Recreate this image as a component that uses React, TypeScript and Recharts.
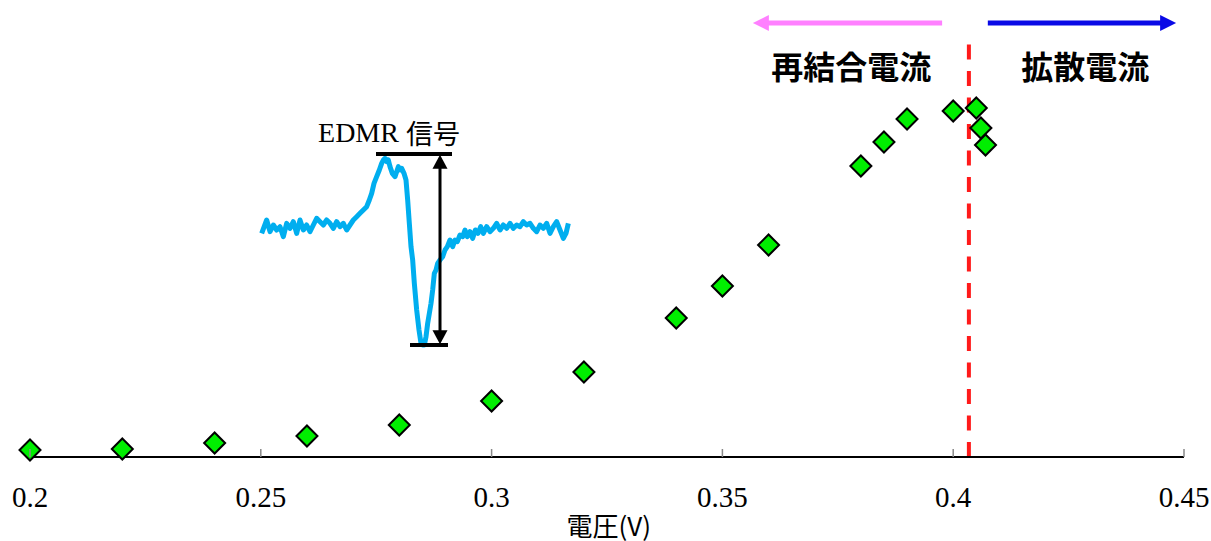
import React from 'react';
import { ScatterChart, Scatter, XAxis, YAxis, ReferenceLine, ReferenceDot, LineChart, Line } from 'recharts';

// main scatter: voltage vs. EDMR amplitude (arb. units)
const voltage = [0.2, 0.22, 0.24, 0.26, 0.28, 0.3, 0.32, 0.34, 0.35, 0.36, 0.38, 0.385, 0.39, 0.4, 0.405, 0.406, 0.407];
const edmrAmp = [7, 8, 14, 21, 32, 56, 85, 139, 171, 212, 291, 315, 338, 346, 349, 329, 312];
const xTicks = [0.2, 0.25, 0.3, 0.35, 0.4, 0.45];
const boundaryV = 0.4034;

// inset: EDMR signal trace (field sweep, arb. units)
const edmrField = [
  35, 50, 60, 70, 80, 90, 100, 110, 120, 130, 140, 150, 160, 170, 180, 190, 200, 210, 220, 230,
  240, 250, 260, 270, 280, 290, 300, 310, 320, 330, 340, 350, 358, 365, 372, 380, 388, 395, 400, 405,
  410, 415, 420, 427, 435, 440, 445, 450, 455, 462, 468, 473, 478, 483, 488, 493, 500, 507, 513, 518,
  523, 528, 533, 538, 543, 548, 553, 558, 563, 570, 578, 585, 592, 600, 608, 615, 622, 630, 638, 645,
  652, 660, 668, 676, 684, 692, 700, 710, 720, 730, 740, 750, 760, 770, 780, 790, 800, 810, 820, 830,
  840, 850, 860, 870, 880, 890, 900, 910, 920, 930, 940, 948, 955,
];
const edmrSignal = [
  -20, 20, -15, 5, -10, 0, -30, 10, -5, 15, -20, 20, -10, 5, -15, 5, 25, 15, 5, 20,
  10, -5, 15, 0, 10, -10, 5, 20, 30, 40, 50, 60, 80, 100, 130, 150, 170, 190, 200, 205,
  195, 200, 180, 160, 150, 165, 180, 170, 175, 160, 140, 80, 10, -60, -100, -170, -250, -310, -350, -355,
  -355, -330, -290, -260, -230, -190, -140, -130, -110, -100, -90, -70, -60, -40, -60, -40, -45, -25, -30, -10,
  -30, -15, -35, -10, -20, 0, -20, 0, -15, -5, 10, -10, 5, -5, 10, -5, 5, 0, 15, 5,
  10, -5, -15, 5, -5, 10, -20, 0, 15, -10, -35, -20, 10,
];

const scatterData = voltage.map((v, i) => ({ v, amp: edmrAmp[i] }));
const traceData = edmrField.map((f, i) => ({ f, s: edmrSignal[i] }));

const Diamond = (props: any) => {
  const { cx, cy } = props;
  const r = 10.5;
  return (
    <path
      d={`M${cx},${cy - r}L${cx + r},${cy}L${cx},${cy + r}L${cx - r},${cy}Z`}
      fill="#00EE00"
      stroke="#000"
      strokeWidth={2}
    />
  );
};

// line with a filled head at the end (or both ends)
const arrow = (color: string, width: number, len: number, half: number, both = false) => (p: any) => {
  const { x1, y1, x2, y2 } = p;
  const dx = x2 - x1;
  const dy = y2 - y1;
  const d = Math.sqrt(dx * dx + dy * dy) || 1;
  const ux = dx / d;
  const uy = dy / d;
  const head = (tx: number, ty: number, sx: number, sy: number) => {
    const bx = tx - sx * len;
    const by = ty - sy * len;
    return `M${tx},${ty}L${bx - sy * half},${by + sx * half}L${bx + sy * half},${by - sx * half}Z`;
  };
  return (
    <g>
      <line
        x1={both ? x1 + ux * len * 0.8 : x1}
        y1={both ? y1 + uy * len * 0.8 : y1}
        x2={x2 - ux * len * 0.8}
        y2={y2 - uy * len * 0.8}
        stroke={color}
        strokeWidth={width}
      />
      <path d={head(x2, y2, ux, uy)} fill={color} />
      {both && <path d={head(x1, y1, -ux, -uy)} fill={color} />}
    </g>
  );
};

const textShape = (text: string, size: number, bold: boolean, serif = false) => (p: any) => (
  <text
    x={p.cx}
    y={p.cy}
    textAnchor="middle"
    dominantBaseline="central"
    fontSize={size}
    fontWeight={bold ? 'bold' : 'normal'}
    style={{ fontFamily: serif ? "'Liberation Serif', serif" : "'Noto Sans CJK JP', sans-serif" }}
    fill="#000"
  >
    {text}
  </text>
);

const VoltTick = (props: any) => {
  const { x, y, payload } = props;
  return (
    <g>
      <line x1={x} y1={y} x2={x} y2={y - 8} stroke="#888" strokeWidth={1.5} />
      <text
        x={x}
        y={y + 40}
        textAnchor="middle"
        dominantBaseline="central"
        fontSize={29}
        style={{ fontFamily: "'Liberation Serif', 'Times New Roman', serif" }}
        fill="#000"
      >
        {payload.value}
      </text>
    </g>
  );
};

export default function App() {
  return (
    <div style={{ position: 'absolute', left: 0, top: 0, width: 1211, height: 541, background: '#fff' }}>
      <ScatterChart width={1211} height={541} margin={{ top: 37, right: 27, bottom: 0, left: 30 }}>
        <XAxis
          type="number"
          dataKey="v"
          domain={[0.2, 0.45]}
          ticks={xTicks}
          height={84}
          tickSize={0}
          tickMargin={0}
          tick={<VoltTick />}
          axisLine={{ stroke: '#000', strokeWidth: 2 }}
          tickLine={false}
          interval={0}
        />
        <YAxis type="number" dataKey="amp" domain={[0, 420]} hide />
        <ReferenceLine x={boundaryV} stroke="#FF1A1A" strokeWidth={4} strokeDasharray="15 11.5" />
        <ReferenceLine
          segment={[{ x: 0.3976, y: 434 }, { x: 0.3566, y: 434 }]}
          ifOverflow="visible"
          shape={arrow('#FF80FF', 5, 16, 8)}
        />
        <ReferenceLine
          segment={[{ x: 0.4075, y: 434 }, { x: 0.4483, y: 434 }]}
          ifOverflow="visible"
          shape={arrow('#0A0AE6', 5, 16, 8)}
        />
        <ReferenceDot x={0.3779} y={392} r={0} ifOverflow="visible" shape={textShape('再結合電流', 32, true)} />
        <ReferenceDot x={0.4286} y={392} r={0} ifOverflow="visible" shape={textShape('拡散電流', 32, true)} />
        <ReferenceDot x={0.3254} y={-67} r={0} ifOverflow="visible" shape={textShape('電圧(V)', 26, false)} />
        <Scatter data={scatterData} shape={<Diamond />} isAnimationActive={false} />
      </ScatterChart>

      <div style={{ position: 'absolute', left: 250, top: 110 }}>
        <LineChart
          width={330}
          height={250}
          data={traceData}
          margin={{ top: 40, right: 11.33, bottom: 6, left: 10.67 }}
        >
          <XAxis type="number" dataKey="f" domain={[32, 956]} hide />
          <YAxis type="number" domain={[-382, 230]} hide />
          <Line
            dataKey="s"
            stroke="#00AEEF"
            strokeWidth={5}
            dot={false}
            isAnimationActive={false}
            strokeLinejoin="round"
          />
          <ReferenceLine segment={[{ x: 378, y: 218 }, { x: 606, y: 218 }]} ifOverflow="visible" stroke="#000" strokeWidth={4} />
          <ReferenceLine segment={[{ x: 480, y: -355 }, { x: 594, y: -355 }]} ifOverflow="visible" stroke="#000" strokeWidth={4} />
          <ReferenceLine
            segment={[{ x: 570, y: 216 }, { x: 570, y: -353 }]}
            ifOverflow="visible"
            shape={arrow('#000', 3, 14, 7.5, true)}
          />
          <ReferenceDot
            x={417}
            y={284}
            r={0}
            ifOverflow="visible"
            shape={(p: any) => (
              <text x={p.cx} y={p.cy} textAnchor="middle" dominantBaseline="central" fontSize={28} fill="#000">
                <tspan style={{ fontFamily: "'Liberation Serif', serif" }}>EDMR </tspan>
                <tspan style={{ fontFamily: "'Noto Sans CJK JP', sans-serif" }} fontSize={27}>信号</tspan>
              </text>
            )}
          />
        </LineChart>
      </div>
    </div>
  );
}
